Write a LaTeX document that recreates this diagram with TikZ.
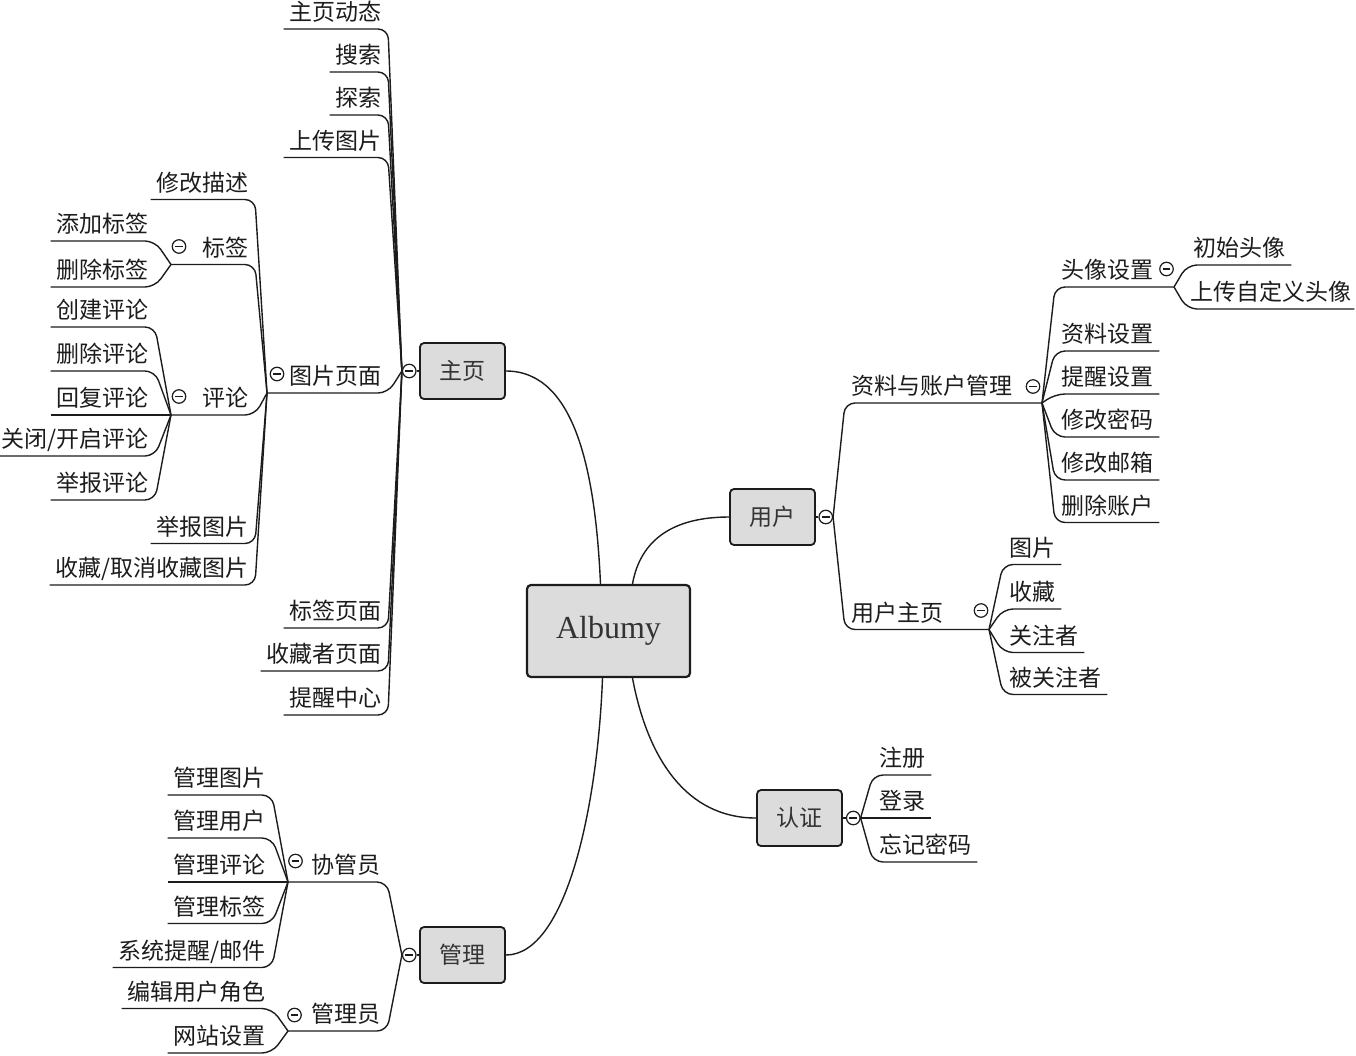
\documentclass[tikz,border=0pt]{standalone}
\usepackage{fontspec}
\setmainfont{Liberation Serif}
\newfontfamily\cjk{Noto Sans CJK SC}
\usetikzlibrary{positioning}

\definecolor{ink}{HTML}{1C1C1C}
\definecolor{hubgray}{HTML}{DCDCDC}

\tikzset{
  hub/.style={draw=ink, fill=hubgray, rounded corners=4pt, line width=1.8pt,
    minimum width=85pt, minimum height=56pt, text=ink!90,
    font=\cjk\fontsize{23}{23}\selectfont},
  root/.style={hub, minimum width=163pt, minimum height=92pt, line width=2.2pt,
    font=\fontsize{32}{32}\selectfont},
  fold/.style={circle, draw=ink, line width=1.2pt, minimum size=13.5pt, inner sep=0pt,
    fill=white, path picture={\draw[ink, line width=1.2pt]
      ([xshift=2.8pt]path picture bounding box.west) --
      ([xshift=-2.8pt]path picture bounding box.east);}},
  leaf/.style={font=\cjk\fontsize{23}{23}\selectfont, text=ink, inner xsep=6pt,
    inner ysep=8.3pt, text height=17pt, text depth=0pt},
  link/.style={draw=ink, line width=1.4pt, rounded corners=10pt},
}

\begin{document}
\begin{tikzpicture}[x=1pt, y=-1pt]

  \useasboundingbox (0,0) rectangle (1356,1055);

  % root and main topics
  \node[root] (alb) at (608.5,631) {Albumy};
  \node[hub] (zy) at (462.5,371) {主页};
  \node[hub] (yh) at (772.5,517) {用户};
  \node[hub] (rz) at (799.5,818) {认证};
  \node[hub] (gl) at (462.5,955) {管理};

  \node[fold, left=2.5pt of zy] (f-zy) {};
  \node[fold, right=2.5pt of yh] (f-yh) {};
  \node[fold, right=3pt of rz] (f-rz) {};
  \node[fold, left=2.5pt of gl] (f-gl) {};
  \draw[link] (f-zy) -- (zy);
  \draw[link] (f-yh) -- (yh);
  \draw[link] (f-rz) -- (rz);
  \draw[link] (f-gl) -- (gl);

  \draw[link] ([xshift=-8pt]alb.north) .. controls +(-5,-110) and +(70,0) .. (zy.east);
  \draw[link] ([xshift=24pt]alb.north) .. controls +(8,-45) and +(-55,0) .. (yh.west);
  \draw[link] ([xshift=24pt]alb.south) .. controls +(15,80) and +(-70,0) .. (rz.west);
  \draw[link] ([xshift=-6pt]alb.south) .. controls +(-5,130) and +(60,0) .. (gl.east);

  % 主页
  \foreach \n/\y/\t in {zy1/29/主页动态, zy2/72/搜索, zy3/115/探索, zy4/157.5/上传图片,
      zy5/628/标签页面, zy6/671/收藏者页面, zy7/715/提醒中心}
    \node[leaf, anchor=south east] (\n) at (388,\y) {\t};
  \node[leaf, anchor=south east] (tp) at (388,393) {图片页面};
  \node[fold] (f-tp) at (277,374) {};
  \coordinate (j-tp) at (267,393);

  \foreach \n in {zy1,zy2,zy3,zy4,zy5,zy6,zy7}
    \draw[link] (f-zy.west) -- (\n.south east) -- (\n.south west);
  \draw[link] (f-zy.west) -- (tp.south east) -- (j-tp);

  % 图片页面
  \node[leaf, anchor=south east] (tp1) at (255,199.5) {修改描述};
  \node[leaf, anchor=south east] (bq) at (255,264.5) {标签};
  \node[leaf, anchor=south east] (pl) at (255,415) {评论};
  \node[leaf, anchor=south east] (tp2) at (255,543.5) {举报图片};
  \node[leaf, anchor=south east] (tp3) at (255,585) {收藏/取消收藏图片};
  \node[fold] (f-bq) at (179,246.5) {};
  \node[fold] (f-pl) at (179,396.5) {};
  \coordinate (j-bq) at (171,264.5);
  \coordinate (j-pl) at (171,415);

  \foreach \n in {tp1,tp2,tp3}
    \draw[link] (j-tp) -- (\n.south east) -- (\n.south west);
  \draw[link] (j-tp) -- (bq.south east) -- (j-bq);
  \draw[link] (j-tp) -- (pl.south east) -- (j-pl);

  % 标签 and 评论
  \node[leaf, anchor=south east] (bq1) at (155,241) {添加标签};
  \node[leaf, anchor=south east] (bq2) at (155,287) {删除标签};
  \foreach \n in {bq1,bq2}
    \draw[link] (j-bq) -- (\n.south east) -- (\n.south west);

  \node[leaf, anchor=south east] (pl1) at (155,327) {创建评论};
  \node[leaf, anchor=south east] (pl2) at (155,371) {删除评论};
  \node[leaf, anchor=south east] (pl3) at (155,415) {回复评论};
  \node[leaf, anchor=south east] (pl4) at (155,456) {关闭/开启评论};
  \node[leaf, anchor=south east] (pl5) at (155,500) {举报评论};
  \foreach \n in {pl1,pl2,pl3,pl4,pl5}
    \draw[link] (j-pl) -- (\n.south east) -- (\n.south west);

  % 管理
  \node[leaf, anchor=south east] (xg) at (387,882) {协管员};
  \node[leaf, anchor=south east] (ad) at (387,1031) {管理员};
  \node[fold] (f-xg) at (295.5,861) {};
  \node[fold] (f-ad) at (294.5,1015) {};
  \coordinate (j-xg) at (288,882);
  \coordinate (j-ad) at (288,1031);
  \draw[link] (f-gl.west) -- (xg.south east) -- (j-xg);
  \draw[link] (f-gl.west) -- (ad.south east) -- (j-ad);

  \node[leaf, anchor=south east] (xg1) at (272,795) {管理图片};
  \node[leaf, anchor=south east] (xg2) at (272,838) {管理用户};
  \node[leaf, anchor=south east] (xg3) at (272,882) {管理评论};
  \node[leaf, anchor=south east] (xg4) at (272,923.5) {管理标签};
  \node[leaf, anchor=south east] (xg5) at (272,967.5) {系统提醒/邮件};
  \foreach \n in {xg1,xg2,xg3,xg4,xg5}
    \draw[link] (j-xg) -- (\n.south east) -- (\n.south west);

  \node[leaf, anchor=south east] (ad1) at (272,1008.5) {编辑用户角色};
  \node[leaf, anchor=south east] (ad2) at (272,1053) {网站设置};
  \foreach \n in {ad1,ad2}
    \draw[link] (j-ad) -- (\n.south east) -- (\n.south west);

  % 用户
  \node[leaf, anchor=south west] (zl) at (845,403) {资料与账户管理};
  \node[leaf, anchor=south west] (yz) at (845,629.5) {用户主页};
  \node[fold] (f-zl) at (1033,386.5) {};
  \node[fold] (f-yz) at (981,610.5) {};
  \coordinate (j-zl) at (1042,403);
  \coordinate (j-yz) at (989,629.5);
  \draw[link] (f-yh.east) -- (zl.south west) -- (j-zl);
  \draw[link] (f-yh.east) -- (yz.south west) -- (j-yz);

  \node[leaf, anchor=south west] (tx) at (1055,287) {头像设置};
  \node[fold] (f-tx) at (1166.5,269) {};
  \coordinate (j-tx) at (1174,287);
  \draw[link] (j-zl) -- (tx.south west) -- (j-tx);
  \foreach \n/\y/\t in {zl1/351/资料设置, zl2/394/提醒设置, zl3/437/修改密码,
      zl4/480/修改邮箱, zl5/522.5/删除账户}
    \node[leaf, anchor=south west] (\n) at (1055,\y) {\t};
  \foreach \n in {zl1,zl2,zl3,zl4,zl5}
    \draw[link] (j-zl) -- (\n.south west) -- (\n.south east);

  \node[leaf, anchor=south west] (tx1) at (1187,265) {初始头像};
  \node[leaf, anchor=south west, inner xsep=3pt] (tx2) at (1187,309) {上传自定义头像};
  \foreach \n in {tx1,tx2}
    \draw[link] (j-tx) -- (\n.south west) -- (\n.south east);

  \foreach \n/\y/\t in {yz1/564.5/图片, yz2/609/收藏, yz3/652.5/关注者, yz4/694.5/被关注者}
    \node[leaf, anchor=south west] (\n) at (1003,\y) {\t};
  \foreach \n in {yz1,yz2,yz3,yz4}
    \draw[link] (j-yz) -- (\n.south west) -- (\n.south east);

  % 认证
  \foreach \n/\y/\t in {rz1/775/注册, rz2/818/登录, rz3/862/忘记密码}
    \node[leaf, anchor=south west] (\n) at (873,\y) {\t};
  \foreach \n in {rz1,rz2,rz3}
    \draw[link] (f-rz.east) -- (\n.south west) -- (\n.south east);

\end{tikzpicture}
\end{document}
